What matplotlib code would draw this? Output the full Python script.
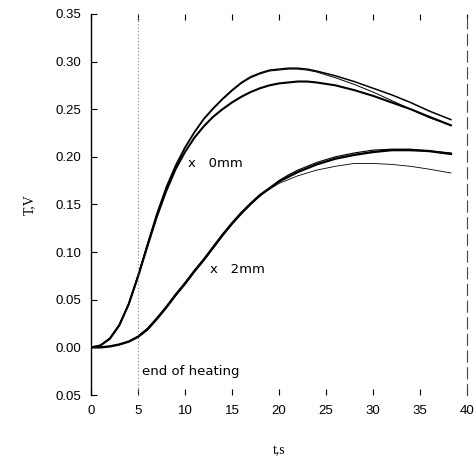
import matplotlib
matplotlib.use("Agg")
import matplotlib.pyplot as plt

# time axis (s) and signal (V)
t = [0, 1, 2, 3, 4, 5, 6, 7, 8, 9, 10, 11, 12, 13, 14, 15, 16, 17, 18, 19, 20,
     21, 22, 23, 24, 26, 28, 30, 32, 34, 36, 38.3]

# 0 mm curves
v0_upper = [0, 0.002, 0.009, 0.023, 0.045, 0.075, 0.108, 0.140, 0.168, 0.191,
            0.210, 0.226, 0.240, 0.251, 0.261, 0.270, 0.278, 0.284, 0.288,
            0.291, 0.292, 0.293, 0.293, 0.292, 0.290, 0.285, 0.279, 0.272,
            0.265, 0.257, 0.248, 0.239]
v0_second = [0, 0.002, 0.010, 0.024, 0.046, 0.076, 0.108, 0.139, 0.166, 0.189,
             0.209, 0.225, 0.239, 0.250, 0.260, 0.269, 0.277, 0.283, 0.287,
             0.290, 0.291, 0.292, 0.292, 0.291, 0.289, 0.283, 0.276, 0.268,
             0.259, 0.250, 0.241, 0.233]
v0_lower = [0, 0.002, 0.009, 0.023, 0.045, 0.074, 0.106, 0.137, 0.164, 0.187,
            0.205, 0.220, 0.232, 0.242, 0.250, 0.257, 0.263, 0.268, 0.272,
            0.275, 0.277, 0.278, 0.279, 0.279, 0.278, 0.275, 0.270, 0.264,
            0.257, 0.250, 0.242, 0.233]

# 2 mm curves
v2_thick = [0, 0, 0.001, 0.003, 0.006, 0.011, 0.019, 0.030, 0.042, 0.055,
            0.067, 0.080, 0.092, 0.105, 0.118, 0.130, 0.141, 0.151, 0.160,
            0.167, 0.174, 0.179, 0.184, 0.188, 0.192, 0.198, 0.202, 0.205,
            0.207, 0.207, 0.206, 0.203]
v2_double = [0, 0, 0.001, 0.003, 0.006, 0.011, 0.018, 0.029, 0.041, 0.054,
             0.066, 0.079, 0.091, 0.104, 0.117, 0.129, 0.140, 0.150, 0.159,
             0.167, 0.175, 0.181, 0.186, 0.190, 0.194, 0.200, 0.204, 0.207,
             0.208, 0.208, 0.206, 0.204]
v2_thin = [0, 0, 0.001, 0.003, 0.006, 0.012, 0.020, 0.031, 0.043, 0.056,
           0.068, 0.081, 0.093, 0.106, 0.119, 0.131, 0.142, 0.151, 0.159,
           0.166, 0.172, 0.176, 0.180, 0.183, 0.186, 0.190, 0.193, 0.193,
           0.192, 0.190, 0.187, 0.183]

x_ticks = [0, 5, 10, 15, 20, 25, 30, 35, 40]
y_ticks = [-0.05, 0.0, 0.05, 0.10, 0.15, 0.20, 0.25, 0.30, 0.35]
y_labels = ["0.05", "0.00", "0.05", "0.10", "0.15", "0.20", "0.25", "0.30", "0.35"]

fig = plt.figure(figsize=(4.74, 4.62), dpi=100)
ax = fig.add_axes([0.192, 0.145, 0.793, 0.825])

ax.plot(t, v0_upper, color="black", lw=1.1)
ax.plot(t, v0_second, color="black", lw=0.7)
ax.plot(t, v0_lower, color="black", lw=1.5)
ax.plot(t, v2_thick, color="black", lw=1.7)
ax.plot(t, v2_double, color="black", lw=0.8)
ax.plot(t, v2_thin, color="black", lw=0.6)

# end of heating marker
ax.axvline(5, color="gray", lw=0.8, ls=(0, (1, 2)))
ax.text(5.4, -0.025, "end of heating", fontsize=9.5, family="DejaVu Sans",
        va="center", ha="left")

ax.text(10.3, 0.193, "x   0mm", fontsize=9.5, va="center", ha="left")
ax.text(12.7, 0.082, "x   2mm", fontsize=9.5, va="center", ha="left")

ax.set_xlim(0, 40)
ax.set_ylim(-0.05, 0.35)
ax.set_xticks(x_ticks)
ax.set_yticks(y_ticks)
ax.set_yticklabels(y_labels)

ax.spines["top"].set_visible(False)
ax.spines["bottom"].set_visible(False)
ax.spines["left"].set_linewidth(1.0)
ax.spines["right"].set_linewidth(0.8)
ax.spines["right"].set_color("#444444")
ax.spines["right"].set_linestyle((0, (10, 5)))

ax.tick_params(axis="both", direction="in", length=4, width=0.8,
               labelsize=9.5, pad=7, top=True, right=False)
for lbl in ax.get_xticklabels() + ax.get_yticklabels():
    lbl.set_family("Liberation Sans")

ax.set_xlabel("t,s", fontsize=10, family="Liberation Serif", labelpad=20)
ax.set_ylabel("T,V", fontsize=10, family="Liberation Serif", labelpad=14)

fig.savefig("out.png", dpi=100)
